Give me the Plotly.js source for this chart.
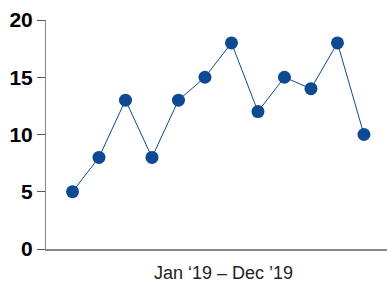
<!DOCTYPE html>
<html><head><meta charset="utf-8">
<script src="https://cdn.plot.ly/plotly-3.0.1.min.js"></script>
<style>html,body{margin:0;padding:0;background:#fff}#chart{width:387px;height:284px}</style>
</head><body><div id="chart"></div>
<script>
const months = ['Jan','Feb','Mar','Apr','May','Jun','Jul','Aug','Sep','Oct','Nov','Dec'];
const values = [5, 8, 13, 8, 13, 15, 18, 12, 15, 14, 18, 10];
const yTicks = [0, 5, 10, 15, 20];
const xTitle = 'Jan \u201819 \u2013 Dec \u201919';

Plotly.newPlot('chart', [{
  x: months.map((m, i) => i),
  y: values,
  text: months,
  type: 'scatter',
  mode: 'lines+markers',
  line: {color: '#0d4a93', width: 1},
  marker: {color: '#0d4a93', size: 13},
  hoverinfo: 'text+y'
}], {
  width: 387, height: 284,
  margin: {l: 46, r: 0, t: 20, b: 35},
  paper_bgcolor: '#fff', plot_bgcolor: '#fff',
  showlegend: false,
  xaxis: {
    range: [-1, 11.87], showticklabels: false, ticks: '', showgrid: false, zeroline: false,
    showline: true, linecolor: '#888', linewidth: 2
  },
  yaxis: {
    range: [0, 20], tickvals: yTicks, ticks: 'outside', ticklen: 8, tickcolor: '#555', tickwidth: 1,
    showgrid: false, zeroline: false, showline: true, linecolor: '#888', linewidth: 1,
    tickfont: {family: 'Liberation Sans, Arial, sans-serif', size: 21, color: '#000', weight: 'bold'}
  },
  annotations: [{
    text: xTitle, xref: 'paper', yref: 'paper', x: 0.5205, y: 0,
    xanchor: 'center', yanchor: 'top', yshift: -13, showarrow: false, borderpad: 0,
    font: {family: 'Liberation Sans, Arial, sans-serif', size: 18, color: '#222'}
  }]
}, {staticPlot: true});
</script></body></html>
